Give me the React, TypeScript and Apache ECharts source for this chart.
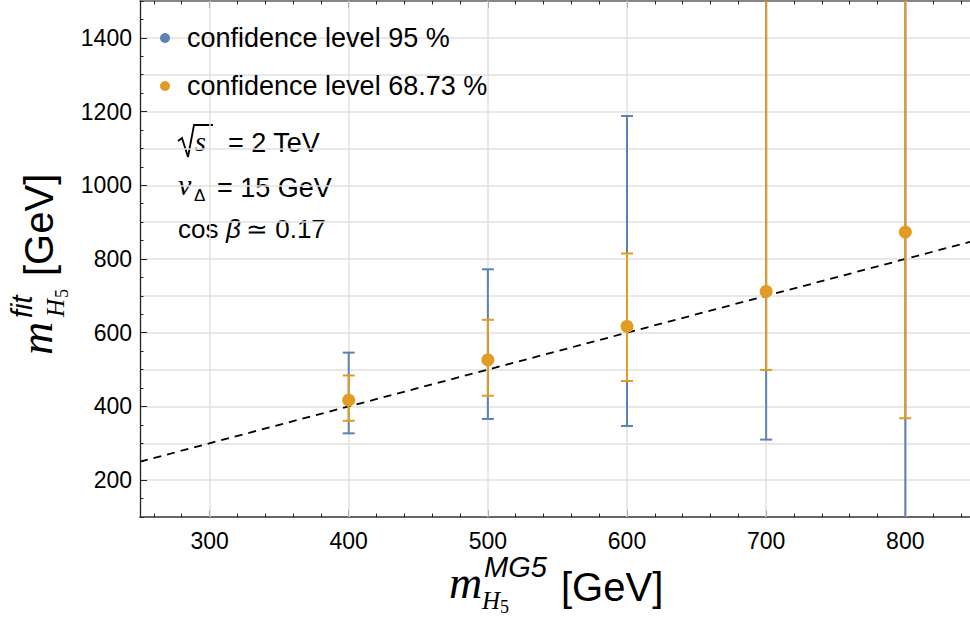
import React, { useEffect, useRef } from "react";
import * as echarts from "echarts";

// ---- data ----
const massMG5 = [400, 500, 600, 700, 800];
const fitCentral = [417, 526, 617, 712, 873];
const low95 = [327, 366, 347, 310, 40];
const high95 = [546, 772, 1188, 2400, 2600];
const low68 = [361, 429, 469, 499, 368];
const high68 = [484, 635, 815, 1900, 2200];
const xTickLabels = [300, 400, 500, 600, 700, 800];
const xMinorTicks = [260, 280, 320, 340, 360, 380, 420, 440, 460, 480, 520, 540, 560, 580, 620, 640, 660, 680, 720, 740, 760, 780, 820, 840];
const yTickLabels = [200, 400, 600, 800, 1000, 1200, 1400];
const diagonal = [250, 846.5];
const xRange = [250, 846.5];
const yRange = [100, 1500];

const BLUE = "#5E81B5";
const ORANGE = "#E19C24";
const SANS = "Liberation Sans";
const SERIF = "Liberation Serif";

const errorBarRenderer = (color: string) => (params: any, api: any) => {
  const x = api.value(0);
  const lo = api.value(1);
  const hi = api.value(2);
  const cs = params.coordSys;
  const top = cs.y;
  const bottom = cs.y + cs.height;
  const pLo = api.coord([x, lo]);
  const pHi = api.coord([x, hi]);
  const clamp = (v: number) => Math.min(Math.max(v, top), bottom);
  const children: any[] = [
    {
      type: "line",
      shape: { x1: pLo[0], y1: clamp(pHi[1]), x2: pLo[0], y2: clamp(pLo[1]) },
      style: { stroke: color, lineWidth: 2 },
    },
  ];
  const cap = 6;
  [pLo[1], pHi[1]].forEach((py: number) => {
    if (py > top + 1 && py < bottom - 1) {
      children.push({
        type: "line",
        shape: { x1: pLo[0] - cap, y1: py, x2: pLo[0] + cap, y2: py },
        style: { stroke: color, lineWidth: 2 },
      });
    }
  });
  return { type: "group", children };
};

// text helper: y given as baseline
const txt = (x: number, baseline: number, text: string, size: number, family: string, italic = false, extra: any = {}) => ({
  type: "text",
  x,
  y: baseline - size * 0.35,
  style: {
    text,
    fill: "#000",
    font: `${italic ? "italic " : ""}${size}px "${family}"`,
    verticalAlign: "middle",
    align: "left",
    ...extra,
  },
});

export default function App() {
  const ref = useRef<HTMLDivElement>(null);
  useEffect(() => {
    if (!ref.current) return;
    const chart = echarts.init(ref.current, undefined, { renderer: "svg" });
    const axisBase = {
      type: "value",
      min: xRange[0],
      max: xRange[1],
      splitLine: { show: false },
    };
    const option: any = {
      animation: false,
      backgroundColor: "#fff",
      grid: { left: 140, right: 0, top: 1, bottom: 106 },
      legend: {
        orient: "vertical",
        left: 160,
        top: 23,
        padding: 0,
        itemWidth: 10,
        itemHeight: 10,
        itemGap: 18,
        textStyle: { fontFamily: SANS, fontSize: 27, color: "#000", lineHeight: 30, padding: [0, 0, 0, 12] },
        data: [
          { name: "confidence level 95 %", icon: "circle", itemStyle: { color: BLUE } },
          { name: "confidence level 68.73 %", icon: "circle", itemStyle: { color: ORANGE } },
        ],
      },
      xAxis: [
        {
          ...axisBase,
          position: "bottom",
          axisLine: { show: true, lineStyle: { color: "#666", width: 2 } },
          axisTick: { show: true, inside: true, length: 7, customValues: xTickLabels, lineStyle: { color: "#222", width: 1 } },
          axisLabel: { show: true, customValues: xTickLabels, fontFamily: SANS, fontSize: 23, color: "#000", margin: 12 },
        },
        {
          ...axisBase,
          position: "bottom",
          axisLine: { show: false },
          axisTick: { show: true, inside: true, length: 3.5, customValues: xMinorTicks, lineStyle: { color: "#222", width: 1 } },
          axisLabel: { show: false },
        },
        {
          ...axisBase,
          position: "top",
          axisLine: { show: true, lineStyle: { color: "#666", width: 1.5 } },
          axisTick: { show: true, inside: true, length: 7, customValues: xTickLabels, lineStyle: { color: "#222", width: 1 } },
          axisLabel: { show: false },
        },
        {
          ...axisBase,
          position: "top",
          axisLine: { show: false },
          axisTick: { show: true, inside: true, length: 3.5, customValues: xMinorTicks, lineStyle: { color: "#222", width: 1 } },
          axisLabel: { show: false },
        },
      ],
      yAxis: [
        {
          type: "value",
          min: yRange[0],
          max: yRange[1],
          interval: 100,
          position: "left",
          axisLine: { show: true, lineStyle: { color: "#222", width: 1.3 } },
          axisTick: { show: false },
          axisLabel: {
            show: true,
            fontFamily: SANS,
            fontSize: 23,
            color: "#000",
            margin: 8,
            formatter: (v: number) => (yTickLabels.includes(v) ? String(v) : ""),
          },
          splitLine: { show: true, lineStyle: { color: "#e0e0e0", width: 1.5 } },
        },
        {
          type: "value",
          min: yRange[0],
          max: yRange[1],
          interval: 50,
          position: "left",
          axisLine: { show: false },
          axisTick: { show: true, inside: true, length: 3.5, lineStyle: { color: "#222", width: 1 } },
          axisLabel: { show: false },
          splitLine: { show: false },
        },
        {
          type: "value",
          min: yRange[0],
          max: yRange[1],
          position: "left",
          axisLine: { show: false },
          axisTick: { show: true, inside: true, length: 7, customValues: yTickLabels, lineStyle: { color: "#222", width: 1 } },
          axisLabel: { show: false },
          splitLine: { show: false },
        },
      ],
      series: [
        {
          name: "grid-x",
          type: "line",
          data: [],
          z: 1,
          markLine: {
            silent: true,
            z: 1,
            symbol: "none",
            label: { show: false },
            lineStyle: { color: "#e0e0e0", width: 1.5, type: "solid" },
            data: xTickLabels.map((v) => ({ xAxis: v })),
          },
        },
        {
          name: "y = x",
          type: "line",
          z: 2,
          symbol: "none",
          data: diagonal.map((v) => [v, v]),
          lineStyle: { color: "#000", width: 1.8, type: [8, 6] },
        },
        {
          name: "confidence level 95 %",
          type: "custom",
          z: 3,
          itemStyle: { color: BLUE },
          renderItem: errorBarRenderer(BLUE),
          encode: { x: 0, y: [1, 2] },
          data: massMG5.map((m, i) => [m, low95[i], high95[i]]),
        },
        {
          name: "confidence level 68.73 %",
          type: "custom",
          z: 4,
          itemStyle: { color: ORANGE },
          renderItem: errorBarRenderer(ORANGE),
          encode: { x: 0, y: [1, 2] },
          data: massMG5.map((m, i) => [m, low68[i], high68[i]]),
        },
        {
          name: "fit",
          type: "scatter",
          z: 5,
          symbol: "circle",
          symbolSize: 13,
          itemStyle: { color: ORANGE, opacity: 1 },
          data: massMG5.map((m, i) => [m, fitCentral[i]]),
        },
      ],
      graphic: [
        // sqrt(s) = 2 TeV : radical sign drawn as a polyline
        {
          type: "polyline",
          shape: { points: [[178, 141], [182, 138], [188, 157], [194, 125], [213, 125]] },
          style: { stroke: "#000", lineWidth: 1.8, fill: null, lineJoin: "miter", lineCap: "butt" },
        },
        txt(195, 151, "s", 28, SERIF, true),
        txt(228, 152, "= 2 TeV", 27, SANS),
        // v_Delta = 15 GeV
        txt(178, 195, "v", 30, SERIF, true),
        txt(194, 201, "Δ", 17, SANS),
        txt(217, 197, "= 15 GeV", 27, SANS),
        // cos beta ~= 0.17
        txt(178, 238, "cos", 26, SANS),
        txt(226, 238, "β", 26, SANS, true),
        txt(246, 238, "≃ 0.17", 26, SANS),
        // x-axis title
        txt(449, 599, "m", 46, SERIF, true),
        txt(484, 577, "MG5", 29, SANS, true),
        txt(482, 609, "H", 25, SERIF, true),
        txt(500, 613, "5", 18, SERIF),
        txt(561, 601, "[GeV]", 40, SANS),
        // y-axis title (rotated)
        {
          type: "group",
          x: 53,
          y: 355,
          rotation: Math.PI / 2,
          children: [
            txt(0, 0, "m", 46, SERIF, true),
            txt(37, -21, "fit", 29, SANS, true),
            txt(38, 11, "H", 25, SERIF, true),
            txt(57, 15, "5", 18, SERIF),
            txt(79, 0, "[GeV]", 40, SANS),
          ],
        },
      ],
    };
    chart.setOption(option);
    return () => chart.dispose();
  }, []);
  return (
    <div style={{ position: "fixed", left: 0, top: 0, width: 970, height: 623, background: "#fff" }}>
      <div ref={ref} style={{ width: 970, height: 623 }} />
    </div>
  );
}
